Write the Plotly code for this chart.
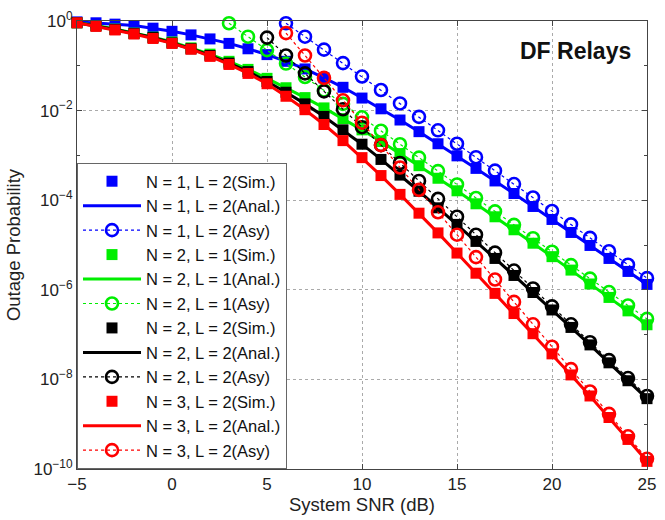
import numpy as np
import plotly.graph_objects as go

# ---------------- data ----------------
snr_sim = list(range(-5, 26))

# log10 of outage probability, simulated / analytical (same values)
n1l2_log10 = [-0.02, -0.04, -0.07, -0.10, -0.16, -0.23, -0.31, -0.40, -0.50, -0.62, -0.75,
              -0.90, -1.07, -1.27, -1.48, -1.72, -1.96, -2.21, -2.47, -2.74, -3.01,
              -3.29, -3.57, -3.85, -4.14, -4.43, -4.72, -5.01, -5.30, -5.59, -5.88]
n2l1_log10 = [-0.04, -0.10, -0.18, -0.27, -0.36, -0.47, -0.60, -0.74, -0.90, -1.08, -1.28,
              -1.49, -1.71, -1.94, -2.18, -2.43, -2.69, -2.96, -3.23, -3.51, -3.79,
              -4.08, -4.37, -4.66, -4.96, -5.26, -5.56, -5.87, -6.17, -6.47, -6.78]
n2l2_log10 = [-0.04, -0.11, -0.19, -0.28, -0.37, -0.49, -0.62, -0.77, -0.94, -1.13, -1.35,
              -1.59, -1.85, -2.13, -2.43, -2.75, -3.09, -3.44, -3.80, -4.17, -4.54,
              -4.92, -5.30, -5.68, -6.06, -6.45, -6.84, -7.23, -7.63, -8.03, -8.43]
n3l2_log10 = [-0.04, -0.12, -0.20, -0.29, -0.39, -0.50, -0.63, -0.79, -0.97, -1.17, -1.40,
              -1.68, -1.98, -2.31, -2.67, -3.05, -3.45, -3.87, -4.29, -4.73, -5.18,
              -5.63, -6.08, -6.53, -6.98, -7.43, -7.90, -8.37, -8.85, -9.34, -9.83]

# asymptotic curves
asy_n1l2_snr = list(range(6, 26))
asy_n1l2_log10 = [-0.05, -0.35, -0.64, -0.94, -1.24, -1.54, -1.84, -2.14, -2.44, -2.74,
                  -3.04, -3.34, -3.64, -3.94, -4.24, -4.54, -4.84, -5.14, -5.44, -5.74]
asy_n2l1_snr = list(range(3, 26))
asy_n2l1_log10 = [-0.05, -0.35, -0.65, -0.95, -1.25, -1.55, -1.85, -2.15, -2.45, -2.75,
                  -3.05, -3.35, -3.65, -3.95, -4.25, -4.55, -4.85, -5.15, -5.45, -5.75,
                  -6.05, -6.35, -6.65]
asy_n2l2_snr = list(range(5, 26))
asy_n2l2_log10 = [-0.37, -0.77, -1.17, -1.57, -1.97, -2.37, -2.77, -3.17, -3.57, -3.97,
                  -4.37, -4.77, -5.17, -5.57, -5.97, -6.37, -6.77, -7.17, -7.57, -7.97, -8.37]
asy_n3l2_snr = list(range(6, 26))
asy_n3l2_log10 = [-0.27, -0.77, -1.27, -1.77, -2.27, -2.77, -3.27, -3.77, -4.27, -4.77,
                  -5.27, -5.77, -6.27, -6.77, -7.27, -7.77, -8.27, -8.77, -9.27, -9.77]

labels = ["N = 1, L = 2", "N = 2, L = 1", "N = 2, L = 2", "N = 3, L = 2"]
colors = ["#0000FF", "#00EE00", "#000000", "#FF0000"]

x_tick_vals = [-5, 0, 5, 10, 15, 20, 25]
y_tick_exps = [0, -2, -4, -6, -8, -10]

FONT = "Liberation Sans, Arial, Helvetica, sans-serif"

# ---------------- figure ----------------
fig = go.Figure()
series = [
    (n1l2_log10, asy_n1l2_snr, asy_n1l2_log10),
    (n2l1_log10, asy_n2l1_snr, asy_n2l1_log10),
    (n2l2_log10, asy_n2l2_snr, asy_n2l2_log10),
    (n3l2_log10, asy_n3l2_snr, asy_n3l2_log10),
]
for i, (sim, asnr, asy) in enumerate(series):
    c = colors[i]
    sim_p = np.power(10.0, sim)
    asy_p = np.power(10.0, asy)
    fig.add_trace(go.Scatter(
        x=snr_sim, y=sim_p, mode="markers", name=labels[i] + "(Sim.)",
        legendgroup="g%d" % (3 * i),
        marker=dict(symbol="square", size=11, color=c, line=dict(width=0)),
        cliponaxis=False))
    fig.add_trace(go.Scatter(
        x=snr_sim, y=sim_p, mode="lines", name=labels[i] + "(Anal.)",
        legendgroup="g%d" % (3 * i + 1),
        line=dict(color=c, width=3), cliponaxis=False))
    fig.add_trace(go.Scatter(
        x=asnr, y=asy_p, mode="lines+markers", name=labels[i] + "(Asy)",
        legendgroup="g%d" % (3 * i + 2),
        line=dict(color=c, width=1.2, dash="dot"),
        marker=dict(symbol="circle-open", size=12, color=c, line=dict(width=2.6, color=c)),
        cliponaxis=False))

fig.add_annotation(x=0.874, y=0.932, xref="paper", yref="paper",
                   xanchor="center", yanchor="middle",
                   text="<b>DF Relays</b>", showarrow=False,
                   font=dict(family=FONT, size=23, color="#111"))

axis_common = dict(
    showline=True, linecolor="#444", linewidth=1, mirror="ticks",
    ticks="inside", ticklen=5, tickcolor="#444",
    showgrid=True, gridcolor="#aaaaaa", griddash="dot", gridwidth=1,
    zeroline=False,
    tickfont=dict(family=FONT, size=17, color="#222"),
)

fig.update_layout(
    width=665, height=520,
    margin=dict(l=77, r=9, t=14, b=51),
    paper_bgcolor="white", plot_bgcolor="white",
    font=dict(family=FONT, color="#222"),
    xaxis=dict(range=[-5, 25], tickvals=x_tick_vals,
               title=dict(text="System SNR (dB)", font=dict(size=18.5), standoff=3),
               **axis_common),
    yaxis=dict(type="log", range=[-10, 0],
               tickvals=[10.0 ** e for e in y_tick_exps],
               ticktext=["10<sup>%s</sup>" % (str(e).replace("-", "−")) for e in y_tick_exps],
               minor=dict(tickvals=[10.0 ** e for e in [-1, -3, -5, -7, -9]],
                          ticks="inside", ticklen=3, tickcolor="#444", showgrid=False),
               title=dict(text="Outage Probability", font=dict(size=18.5), standoff=8),
               **axis_common),
    legend=dict(x=0, y=0, xanchor="left", yanchor="bottom",
                bgcolor="white", bordercolor="#666", borderwidth=1,
                font=dict(family=FONT, size=16.5, color="#111"),
                itemwidth=58, tracegroupgap=0, traceorder="normal"),
    showlegend=True,
)

fig.write_html(
    "out.html",
    config={"displayModeBar": False},
    post_script=("document.documentElement.style.margin='0px';"
                 "document.body.style.margin='0px';"
                 "document.body.style.padding='0px';"),
)
